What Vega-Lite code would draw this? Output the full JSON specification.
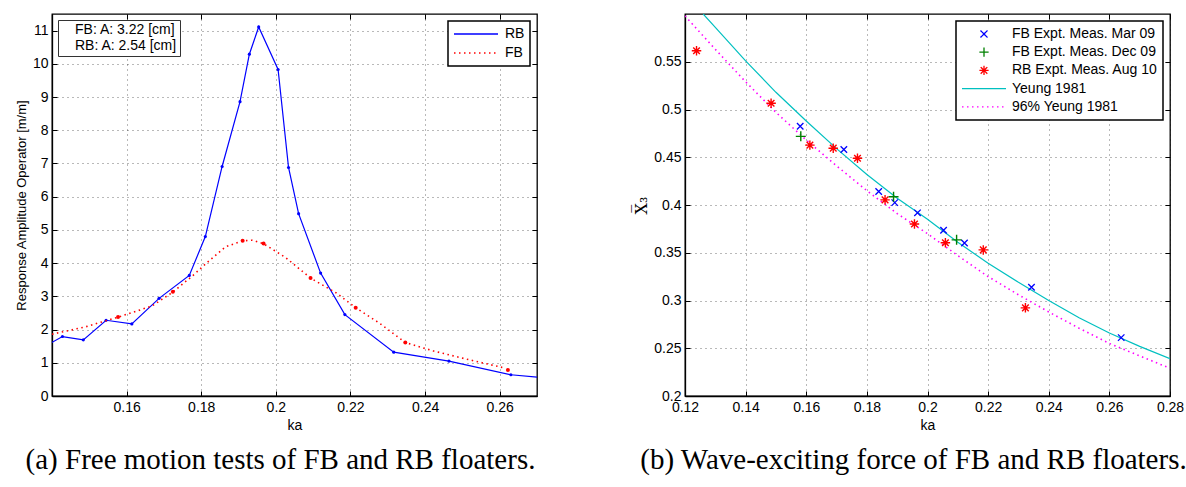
{
  "$schema": "https://vega.github.io/schema/vega-lite/v6.json",
  "background": "white",
  "padding": {"left": 14, "top": 10, "right": 0, "bottom": 0},
  "datasets": {
    "raoRB": [
      {"ka": 0.139, "rao": 1.55, "series": "RB"},
      {"ka": 0.1428, "rao": 1.79, "series": "RB"},
      {"ka": 0.1484, "rao": 1.69, "series": "RB"},
      {"ka": 0.1545, "rao": 2.28, "series": "RB"},
      {"ka": 0.1614, "rao": 2.17, "series": "RB"},
      {"ka": 0.1687, "rao": 2.94, "series": "RB"},
      {"ka": 0.1768, "rao": 3.63, "series": "RB"},
      {"ka": 0.1811, "rao": 4.8, "series": "RB"},
      {"ka": 0.1856, "rao": 6.91, "series": "RB"},
      {"ka": 0.1904, "rao": 8.86, "series": "RB"},
      {"ka": 0.1929, "rao": 10.29, "series": "RB"},
      {"ka": 0.1954, "rao": 11.11, "series": "RB"},
      {"ka": 0.2006, "rao": 9.83, "series": "RB"},
      {"ka": 0.2034, "rao": 6.88, "series": "RB"},
      {"ka": 0.2061, "rao": 5.49, "series": "RB"},
      {"ka": 0.212, "rao": 3.7, "series": "RB"},
      {"ka": 0.2185, "rao": 2.45, "series": "RB"},
      {"ka": 0.2316, "rao": 1.32, "series": "RB"},
      {"ka": 0.2464, "rao": 1.05, "series": "RB"},
      {"ka": 0.263, "rao": 0.64, "series": "RB"},
      {"ka": 0.275, "rao": 0.52, "series": "RB"}
    ],
    "raoFBcurve": [
      {"ka": 0.14, "rao": 1.86, "series": "FB"},
      {"ka": 0.1489, "rao": 2.08, "series": "FB"},
      {"ka": 0.1579, "rao": 2.38, "series": "FB"},
      {"ka": 0.1668, "rao": 2.71, "series": "FB"},
      {"ka": 0.1724, "rao": 3.13, "series": "FB"},
      {"ka": 0.1776, "rao": 3.61, "series": "FB"},
      {"ka": 0.1821, "rao": 4.07, "series": "FB"},
      {"ka": 0.1865, "rao": 4.49, "series": "FB"},
      {"ka": 0.191, "rao": 4.67, "series": "FB"},
      {"ka": 0.1937, "rao": 4.69, "series": "FB"},
      {"ka": 0.1966, "rao": 4.59, "series": "FB"},
      {"ka": 0.2026, "rao": 4.17, "series": "FB"},
      {"ka": 0.2093, "rao": 3.55, "series": "FB"},
      {"ka": 0.2161, "rao": 3.11, "series": "FB"},
      {"ka": 0.2214, "rao": 2.66, "series": "FB"},
      {"ka": 0.2278, "rao": 2.19, "series": "FB"},
      {"ka": 0.2347, "rao": 1.61, "series": "FB"},
      {"ka": 0.2421, "rao": 1.36, "series": "FB"},
      {"ka": 0.2511, "rao": 1.11, "series": "FB"},
      {"ka": 0.2607, "rao": 0.86, "series": "FB"}
    ],
    "raoFBpts": [
      {"ka": 0.1577, "rao": 2.38},
      {"ka": 0.1724, "rao": 3.14},
      {"ka": 0.1911, "rao": 4.67},
      {"ka": 0.1967, "rao": 4.59},
      {"ka": 0.2093, "rao": 3.55},
      {"ka": 0.2214, "rao": 2.66},
      {"ka": 0.2347, "rao": 1.61},
      {"ka": 0.2622, "rao": 0.78}
    ],
    "info": [
      {"info": "FB: A: 3.22 [cm]"},
      {"info": "RB: A: 2.54 [cm]"}
    ],
    "meas": [
      {"ka": 0.158, "x3": 0.4824, "series": "FB Expt. Meas. Mar 09"},
      {"ka": 0.1724, "x3": 0.4581, "series": "FB Expt. Meas. Mar 09"},
      {"ka": 0.1839, "x3": 0.4141, "series": "FB Expt. Meas. Mar 09"},
      {"ka": 0.1892, "x3": 0.4025, "series": "FB Expt. Meas. Mar 09"},
      {"ka": 0.1967, "x3": 0.3918, "series": "FB Expt. Meas. Mar 09"},
      {"ka": 0.2053, "x3": 0.3735, "series": "FB Expt. Meas. Mar 09"},
      {"ka": 0.2122, "x3": 0.3602, "series": "FB Expt. Meas. Mar 09"},
      {"ka": 0.2343, "x3": 0.3138, "series": "FB Expt. Meas. Mar 09"},
      {"ka": 0.2639, "x3": 0.2611, "series": "FB Expt. Meas. Mar 09"},
      {"ka": 0.1582, "x3": 0.4719, "series": "FB Expt. Meas. Dec 09"},
      {"ka": 0.1888, "x3": 0.4087, "series": "FB Expt. Meas. Dec 09"},
      {"ka": 0.2096, "x3": 0.3635, "series": "FB Expt. Meas. Dec 09"},
      {"ka": 0.1238, "x3": 0.5615, "series": "RB Expt. Meas. Aug 10"},
      {"ka": 0.1484, "x3": 0.5065, "series": "RB Expt. Meas. Aug 10"},
      {"ka": 0.1612, "x3": 0.4627, "series": "RB Expt. Meas. Aug 10"},
      {"ka": 0.1689, "x3": 0.4595, "series": "RB Expt. Meas. Aug 10"},
      {"ka": 0.1769, "x3": 0.449, "series": "RB Expt. Meas. Aug 10"},
      {"ka": 0.186, "x3": 0.4054, "series": "RB Expt. Meas. Aug 10"},
      {"ka": 0.1957, "x3": 0.3801, "series": "RB Expt. Meas. Aug 10"},
      {"ka": 0.2059, "x3": 0.3605, "series": "RB Expt. Meas. Aug 10"},
      {"ka": 0.2184, "x3": 0.353, "series": "RB Expt. Meas. Aug 10"},
      {"ka": 0.2323, "x3": 0.2923, "series": "RB Expt. Meas. Aug 10"}
    ],
    "yeung": [
      {"ka": 0.126, "x3": 0.6, "series": "Yeung 1981"},
      {"ka": 0.13, "x3": 0.586, "series": "Yeung 1981"},
      {"ka": 0.14, "x3": 0.551, "series": "Yeung 1981"},
      {"ka": 0.15, "x3": 0.518, "series": "Yeung 1981"},
      {"ka": 0.16, "x3": 0.488, "series": "Yeung 1981"},
      {"ka": 0.17, "x3": 0.459, "series": "Yeung 1981"},
      {"ka": 0.18, "x3": 0.432, "series": "Yeung 1981"},
      {"ka": 0.19, "x3": 0.407, "series": "Yeung 1981"},
      {"ka": 0.2, "x3": 0.385, "series": "Yeung 1981"},
      {"ka": 0.21, "x3": 0.361, "series": "Yeung 1981"},
      {"ka": 0.22, "x3": 0.339, "series": "Yeung 1981"},
      {"ka": 0.23, "x3": 0.319, "series": "Yeung 1981"},
      {"ka": 0.24, "x3": 0.3, "series": "Yeung 1981"},
      {"ka": 0.25, "x3": 0.282, "series": "Yeung 1981"},
      {"ka": 0.26, "x3": 0.266, "series": "Yeung 1981"},
      {"ka": 0.27, "x3": 0.252, "series": "Yeung 1981"},
      {"ka": 0.28, "x3": 0.239, "series": "Yeung 1981"}
    ],
    "yeung96": [
      {"ka": 0.12, "x3": 0.598, "series": "96% Yeung 1981"},
      {"ka": 0.13, "x3": 0.563, "series": "96% Yeung 1981"},
      {"ka": 0.14, "x3": 0.529, "series": "96% Yeung 1981"},
      {"ka": 0.15, "x3": 0.497, "series": "96% Yeung 1981"},
      {"ka": 0.16, "x3": 0.468, "series": "96% Yeung 1981"},
      {"ka": 0.17, "x3": 0.441, "series": "96% Yeung 1981"},
      {"ka": 0.18, "x3": 0.415, "series": "96% Yeung 1981"},
      {"ka": 0.19, "x3": 0.391, "series": "96% Yeung 1981"},
      {"ka": 0.2, "x3": 0.37, "series": "96% Yeung 1981"},
      {"ka": 0.21, "x3": 0.347, "series": "96% Yeung 1981"},
      {"ka": 0.22, "x3": 0.325, "series": "96% Yeung 1981"},
      {"ka": 0.23, "x3": 0.306, "series": "96% Yeung 1981"},
      {"ka": 0.24, "x3": 0.288, "series": "96% Yeung 1981"},
      {"ka": 0.25, "x3": 0.271, "series": "96% Yeung 1981"},
      {"ka": 0.26, "x3": 0.255, "series": "96% Yeung 1981"},
      {"ka": 0.27, "x3": 0.242, "series": "96% Yeung 1981"},
      {"ka": 0.28, "x3": 0.229, "series": "96% Yeung 1981"}
    ]
  },
  "spacing": 94,
  "resolve": {"scale": {"color": "independent", "shape": "independent"}, "legend": {"color": "independent", "shape": "independent"}},
  "hconcat": [
    {
      "width": 485,
      "height": 382,
      "title": {"text": "(a) Free motion tests of FB and RB floaters.", "orient": "bottom", "font": "Liberation Serif", "fontSize": 29, "fontWeight": "normal", "color": "#000", "offset": 14, "dx": -14},
      "layer": [
        {
          "layer": [
            {
              "data": {"name": "raoRB"},
              "mark": {"type": "line", "color": "#0000ff", "strokeWidth": 1.2, "clip": true},
              "encoding": {
                "x": {"field": "ka", "type": "quantitative", "scale": {"domain": [0.14, 0.27], "nice": false, "zero": false}, "axis": {"title": "ka", "values": [0.16, 0.18, 0.2, 0.22, 0.24, 0.26], "format": "~g"}},
                "y": {"field": "rao", "type": "quantitative", "scale": {"domain": [0, 11.5], "nice": false}, "axis": {"title": "Response Amplitude Operator [m/m]", "titleFontSize": 13, "values": [0, 1, 2, 3, 4, 5, 6, 7, 8, 9, 10, 11], "tickCount": 12, "format": "~g"}},
                "color": {"field": "series", "type": "nominal", "scale": {"domain": ["RB", "FB"], "range": ["#0000ff", "#ff0000"]},
                  "legend": {"orient": "top-right", "offset": 7, "title": null, "strokeColor": "#000", "fillColor": "#fff", "padding": 5, "labelFont": "Liberation Sans", "labelFontSize": 14, "labelColor": "#000", "symbolSize": 1936, "clipHeight": 16, "rowPadding": 3, "labelOffset": 6,
                    "encode": {
                      "symbols": {"update": {"shape": {"value": "M-1,0L1,0"}, "strokeDash": {"signal": "datum.value === 'FB' ? [1.5,3.5] : [1,0]"}, "strokeWidth": {"value": 1.3}, "fill": {"value": "transparent"}, "stroke": {"signal": "datum.value === 'FB' ? '#ff0000' : '#0000ff'"}, "opacity": {"value": 1}}},
                      "legend": {"update": {"strokeWidth": {"value": 1.5}}}
                    }}}
              }
            },
            {
              "data": {"name": "raoRB"},
              "mark": {"type": "point", "filled": true, "color": "#0000ff", "size": 10, "opacity": 1, "clip": true},
              "encoding": {"x": {"field": "ka", "type": "quantitative"}, "y": {"field": "rao", "type": "quantitative"}}
            },
            {
              "data": {"name": "raoFBcurve"},
              "mark": {"type": "line", "color": "#ff0000", "strokeWidth": 1.6, "strokeDash": [1.5, 3.5], "clip": true},
              "encoding": {"x": {"field": "ka", "type": "quantitative"}, "y": {"field": "rao", "type": "quantitative"}, "color": {"field": "series", "type": "nominal"}}
            },
            {
              "data": {"name": "raoFBpts"},
              "mark": {"type": "point", "filled": true, "color": "#ff0000", "size": 16, "opacity": 1, "clip": true},
              "encoding": {"x": {"field": "ka", "type": "quantitative"}, "y": {"field": "rao", "type": "quantitative"}}
            },
            {
              "data": {"name": "info"},
              "mark": {"type": "point", "opacity": 0},
              "encoding": {"shape": {"field": "info", "type": "nominal",
                "legend": {"orient": "top-left", "offset": 6, "title": null, "strokeColor": "#333", "fillColor": "#fff", "padding": 3, "labelFont": "Liberation Sans", "labelFontSize": 14, "labelColor": "#000", "symbolSize": 0, "symbolOpacity": 0, "labelOffset": 0, "rowPadding": 2,
                  "encode": {"legend": {"update": {"strokeWidth": {"value": 2}}}}}}}
            }
          ]
        },
        {
          "data": {"name": "raoFBpts"},
          "mark": {"type": "point", "opacity": 0},
          "encoding": {
            "x": {"field": "ka", "type": "quantitative", "axis": {"orient": "top", "labels": false, "title": null, "grid": false, "domain": false, "values": [0.16, 0.18, 0.2, 0.22, 0.24, 0.26]}},
            "y": {"field": "rao", "type": "quantitative", "axis": {"orient": "right", "labels": false, "title": null, "grid": false, "domain": false, "values": [0, 1, 2, 3, 4, 5, 6, 7, 8, 9, 10, 11], "tickCount": 12}}
          }
        }
      ],
      "resolve": {"axis": {"x": "independent", "y": "independent"}}
    },
    {
      "width": 485,
      "height": 382,
      "title": {"text": "(b) Wave-exciting force of FB and RB floaters.", "orient": "bottom", "font": "Liberation Serif", "fontSize": 29, "fontWeight": "normal", "color": "#000", "offset": 14, "dx": -14},
      "layer": [
        {
          "layer": [
            {
              "data": {"name": "yeung"},
              "mark": {"type": "line", "color": "#00c0c0", "strokeWidth": 1.2, "clip": true},
              "encoding": {
                "x": {"field": "ka", "type": "quantitative", "scale": {"domain": [0.12, 0.28], "nice": false, "zero": false}, "axis": {"title": "ka", "values": [0.12, 0.14, 0.16, 0.18, 0.2, 0.22, 0.24, 0.26, 0.28], "tickCount": 12, "format": "~g"}},
                "y": {"field": "x3", "type": "quantitative", "scale": {"domain": [0.2, 0.6], "nice": false, "zero": false}, "axis": {"title": "X̅₃", "titleFont": "DejaVu Serif", "titleFontSize": 16, "values": [0.2, 0.25, 0.3, 0.35, 0.4, 0.45, 0.5, 0.55], "tickCount": 12, "format": "~g"}},
                "color": {"field": "series", "type": "nominal",
                  "scale": {"domain": ["FB Expt. Meas. Mar 09", "FB Expt. Meas. Dec 09", "RB Expt. Meas. Aug 10", "Yeung 1981", "96% Yeung 1981"], "range": ["#0000ff", "#008000", "#ff0000", "#00c0c0", "#ff00ff"]},
                  "legend": {"orient": "top-right", "offset": 7, "title": null, "strokeColor": "#000", "fillColor": "#fff", "padding": 5, "labelFont": "Liberation Sans", "labelFontSize": 14, "labelColor": "#000", "symbolSize": 1936, "clipHeight": 16, "rowPadding": 2.2, "labelOffset": 5, "labelLimit": 300,
                    "encode": {
                      "symbols": {"update": {
                        "shape": {"signal": "datum.value === 'FB Expt. Meas. Mar 09' ? 'M-0.16,-0.16L0.16,0.16M-0.16,0.16L0.16,-0.16' : datum.value === 'FB Expt. Meas. Dec 09' ? 'M-0.21,0L0.21,0M0,-0.21L0,0.21' : datum.value === 'RB Expt. Meas. Aug 10' ? 'M-0.21,0L0.21,0M0,-0.21L0,0.21M-0.15,-0.15L0.15,0.15M-0.15,0.15L0.15,-0.15' : 'M-1,0L1,0'"},
                        "strokeDash": {"signal": "datum.value === '96% Yeung 1981' ? [1.5,3.5] : [1,0]"},
                        "stroke": {"signal": "datum.value === 'FB Expt. Meas. Mar 09' ? '#0000ff' : datum.value === 'FB Expt. Meas. Dec 09' ? '#008000' : datum.value === 'RB Expt. Meas. Aug 10' ? '#ff0000' : datum.value === 'Yeung 1981' ? '#00c0c0' : '#ff00ff'"},
                        "strokeWidth": {"value": 1.3},
                        "fill": {"value": "transparent"},
                        "opacity": {"value": 1}
                      }},
                      "legend": {"update": {"strokeWidth": {"value": 1.5}}}
                    }}}
              }
            },
            {
              "data": {"name": "yeung96"},
              "mark": {"type": "line", "color": "#ff00ff", "strokeWidth": 1.6, "strokeDash": [1.5, 3.5], "clip": true},
              "encoding": {"x": {"field": "ka", "type": "quantitative"}, "y": {"field": "x3", "type": "quantitative"}, "color": {"field": "series", "type": "nominal"}}
            },
            {
              "data": {"name": "meas"},
              "transform": [{"filter": "datum.series === 'FB Expt. Meas. Mar 09'"}],
              "mark": {"type": "point", "shape": "M-1,-1L1,1M-1,1L1,-1", "size": 42, "filled": false, "strokeWidth": 1.3, "opacity": 1, "clip": true},
              "encoding": {"x": {"field": "ka", "type": "quantitative"}, "y": {"field": "x3", "type": "quantitative"}, "color": {"field": "series", "type": "nominal"}}
            },
            {
              "data": {"name": "meas"},
              "transform": [{"filter": "datum.series === 'FB Expt. Meas. Dec 09'"}],
              "mark": {"type": "point", "shape": "M-1,0L1,0M0,-1L0,1", "size": 100, "filled": false, "strokeWidth": 1.4, "opacity": 1, "clip": true},
              "encoding": {"x": {"field": "ka", "type": "quantitative"}, "y": {"field": "x3", "type": "quantitative"}, "color": {"field": "series", "type": "nominal"}}
            },
            {
              "data": {"name": "meas"},
              "transform": [{"filter": "datum.series === 'RB Expt. Meas. Aug 10'"}],
              "mark": {"type": "point", "shape": "M-1,0L1,0M0,-1L0,1M-0.7,-0.7L0.7,0.7M-0.7,0.7L0.7,-0.7", "size": 90, "filled": false, "strokeWidth": 1.4, "opacity": 1, "clip": true},
              "encoding": {"x": {"field": "ka", "type": "quantitative"}, "y": {"field": "x3", "type": "quantitative"}, "color": {"field": "series", "type": "nominal"}}
            }
          ]
        },
        {
          "data": {"name": "yeung"},
          "mark": {"type": "point", "opacity": 0},
          "encoding": {
            "x": {"field": "ka", "type": "quantitative", "axis": {"orient": "top", "labels": false, "title": null, "grid": false, "domain": false, "values": [0.12, 0.14, 0.16, 0.18, 0.2, 0.22, 0.24, 0.26, 0.28], "tickCount": 12}},
            "y": {"field": "x3", "type": "quantitative", "axis": {"orient": "right", "labels": false, "title": null, "grid": false, "domain": false, "values": [0.2, 0.25, 0.3, 0.35, 0.4, 0.45, 0.5, 0.55], "tickCount": 12}}
          }
        }
      ],
      "resolve": {"axis": {"x": "independent", "y": "independent"}}
    }
  ],
  "config": {
    "font": "Liberation Sans",
    "view": {"stroke": "#000", "strokeWidth": 1.3},
    "axis": {
      "labelFont": "Liberation Sans", "labelFontSize": 14, "labelColor": "#000",
      "titleFont": "Liberation Sans", "titleFontSize": 14, "titleFontWeight": "normal", "titleColor": "#000",
      "domainColor": "#000", "domainWidth": 1.3,
      "tickColor": "#000", "tickWidth": 1, "tickSize": -5,
      "labelPadding": 9, "labelFlush": false, "labelOverlap": false, "labelBound": false,
      "gridColor": "#000", "gridDash": [1, 4], "gridOpacity": 0.55, "gridWidth": 1
    }
  }
}
